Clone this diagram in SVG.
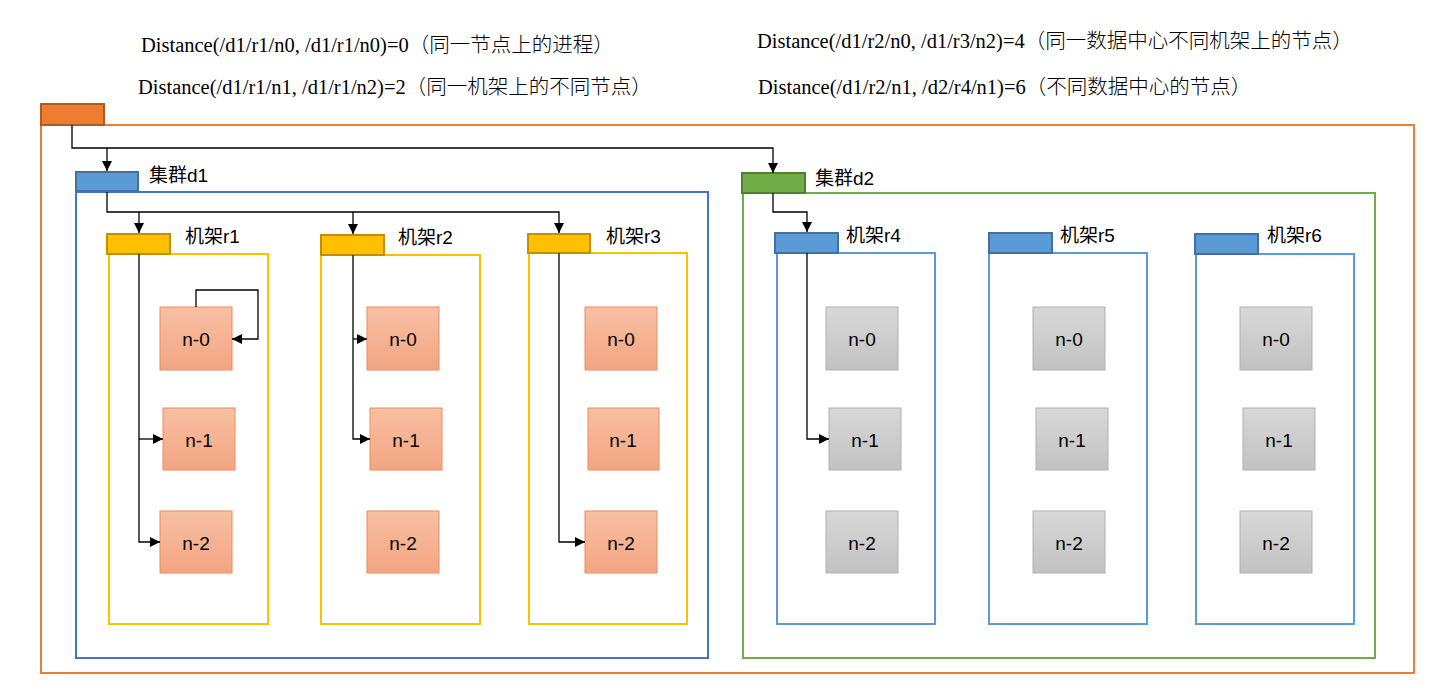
<svg xmlns="http://www.w3.org/2000/svg" width="1442" height="692" viewBox="0 0 1442 692">
<defs>
<linearGradient id="gOr" x1="0" y1="0" x2="0" y2="1"><stop offset="0" stop-color="#F7C0A3"/><stop offset="1" stop-color="#F3A582"/></linearGradient>
<linearGradient id="gGr" x1="0" y1="0" x2="0" y2="1"><stop offset="0" stop-color="#D8D8D8"/><stop offset="1" stop-color="#C2C2C2"/></linearGradient>
<marker id="ar" viewBox="0 0 10 10" refX="10" refY="5" markerWidth="10" markerHeight="10" markerUnits="userSpaceOnUse" orient="auto"><path d="M0,0 L10,5 L0,10 z" fill="#000"/></marker>
</defs>
<style>
.hdr{font-family:"Liberation Serif","Noto Sans CJK SC",serif;font-size:20.5px;fill:#000}
.cjk{font-family:"Noto Sans CJK SC",sans-serif;font-size:20.5px;font-weight:300}
.lbl{font-family:"Liberation Sans","Noto Sans CJK SC",sans-serif;font-size:19px;fill:#000}
.nt{font-family:"Liberation Sans",Arial,sans-serif;font-size:19px;fill:#000;text-anchor:middle;dominant-baseline:central}
.on{fill:url(#gOr);stroke:#F08C5A;stroke-width:1}
.gn{fill:url(#gGr);stroke:#B0B0B0;stroke-width:1}
.cy{fill:none;stroke:#FFC000;stroke-width:2}
.cb{fill:none;stroke:#5B9BD5;stroke-width:2}
.tY{fill:#FFC000;stroke:#BF9000;stroke-width:2}
.tB{fill:#5B9BD5;stroke:#41719C;stroke-width:2}
.cn{fill:none;stroke:#000;stroke-width:1.3}
</style>
<rect width="1442" height="692" fill="#fff"/>
<g id="header">
<text class="hdr" x="141" y="52">Distance(/d1/r1/n0, /d1/r1/n0)=0<tspan class="cjk">（同一节点上的进程）</tspan></text>
<text class="hdr" x="138" y="94">Distance(/d1/r1/n1, /d1/r1/n2)=2<tspan class="cjk">（同一机架上的不同节点）</tspan></text>
<text class="hdr" x="757" y="48">Distance(/d1/r2/n0, /d1/r3/n2)=4<tspan class="cjk">（同一数据中心不同机架上的节点）</tspan></text>
<text class="hdr" x="758" y="94">Distance(/d1/r2/n1, /d2/r4/n1)=6<tspan class="cjk">（不同数据中心的节点）</tspan></text>
</g>
<g id="root">
<rect x="41" y="125" width="1373" height="548" fill="none" stroke="#ED7D31" stroke-width="2"/>
<rect x="41" y="104" width="63" height="21" fill="#ED7D31" stroke="#AE5A21" stroke-width="2"/>
</g>
<g id="d1">
<rect x="76" y="192" width="632" height="466" fill="none" stroke="#4472C4" stroke-width="2"/>
<rect x="76" y="172" width="62" height="19" class="tB"/>
<text class="lbl" x="149" y="182">集群d1</text>
</g>
<g id="d2">
<rect x="743" y="193" width="632" height="465" fill="none" stroke="#70AD47" stroke-width="2"/>
<rect x="742" y="173" width="63" height="20" fill="#70AD47" stroke="#507E32" stroke-width="2"/>
<text class="lbl" x="815" y="185">集群d2</text>
</g>
<g id="r1">
<rect x="109" y="254" width="159" height="370" class="cy"/>
<rect x="107" y="234" width="63" height="20" class="tY"/>
<text class="lbl" x="185" y="243">机架r1</text>
</g>
<g id="r2">
<rect x="321" y="255" width="159" height="369" class="cy"/>
<rect x="321" y="235" width="63" height="20" class="tY"/>
<text class="lbl" x="398" y="244">机架r2</text>
</g>
<g id="r3">
<rect x="529" y="253" width="158" height="371" class="cy"/>
<rect x="528" y="234" width="62" height="19" class="tY"/>
<text class="lbl" x="606" y="243">机架r3</text>
</g>
<g id="r4">
<rect x="777" y="253" width="158" height="371" class="cb"/>
<rect x="775" y="233" width="63" height="20" class="tB"/>
<text class="lbl" x="846" y="242">机架r4</text>
</g>
<g id="r5">
<rect x="989" y="253" width="158" height="371" class="cb"/>
<rect x="989" y="233" width="63" height="20" class="tB"/>
<text class="lbl" x="1060" y="242">机架r5</text>
</g>
<g id="r6">
<rect x="1196" y="254" width="158" height="370" class="cb"/>
<rect x="1195" y="234" width="63" height="20" class="tB"/>
<text class="lbl" x="1267" y="242">机架r6</text>
</g>
<g id="r1-n0"><rect class="on" x="160" y="307" width="72" height="63"/><text class="nt" x="196" y="339">n-0</text></g>
<g id="r1-n1"><rect class="on" x="163" y="408" width="72" height="62"/><text class="nt" x="199" y="440">n-1</text></g>
<g id="r1-n2"><rect class="on" x="160" y="511" width="72" height="62"/><text class="nt" x="196" y="543">n-2</text></g>
<g id="r2-n0"><rect class="on" x="367" y="307" width="72" height="63"/><text class="nt" x="403" y="339">n-0</text></g>
<g id="r2-n1"><rect class="on" x="370" y="408" width="72" height="62"/><text class="nt" x="406" y="440">n-1</text></g>
<g id="r2-n2"><rect class="on" x="367" y="511" width="72" height="62"/><text class="nt" x="403" y="543">n-2</text></g>
<g id="r3-n0"><rect class="on" x="585" y="307" width="72" height="63"/><text class="nt" x="621" y="339">n-0</text></g>
<g id="r3-n1"><rect class="on" x="588" y="408" width="71" height="62"/><text class="nt" x="623" y="440">n-1</text></g>
<g id="r3-n2"><rect class="on" x="585" y="511" width="72" height="62"/><text class="nt" x="621" y="543">n-2</text></g>
<g id="r4-n0"><rect class="gn" x="826" y="307" width="72" height="63"/><text class="nt" x="862" y="339">n-0</text></g>
<g id="r4-n1"><rect class="gn" x="829" y="408" width="72" height="62"/><text class="nt" x="865" y="440">n-1</text></g>
<g id="r4-n2"><rect class="gn" x="826" y="511" width="72" height="62"/><text class="nt" x="862" y="543">n-2</text></g>
<g id="r5-n0"><rect class="gn" x="1033" y="307" width="72" height="63"/><text class="nt" x="1069" y="339">n-0</text></g>
<g id="r5-n1"><rect class="gn" x="1036" y="408" width="72" height="62"/><text class="nt" x="1072" y="440">n-1</text></g>
<g id="r5-n2"><rect class="gn" x="1033" y="511" width="72" height="62"/><text class="nt" x="1069" y="543">n-2</text></g>
<g id="r6-n0"><rect class="gn" x="1240" y="307" width="72" height="63"/><text class="nt" x="1276" y="339">n-0</text></g>
<g id="r6-n1"><rect class="gn" x="1243" y="408" width="72" height="62"/><text class="nt" x="1279" y="440">n-1</text></g>
<g id="r6-n2"><rect class="gn" x="1240" y="511" width="72" height="62"/><text class="nt" x="1276" y="543">n-2</text></g>
<g id="connectors">
<path class="cn" d="M72,125 V148 H773 V173" marker-end="url(#ar)"/>
<path class="cn" d="M107,148 V171" marker-end="url(#ar)"/>
<path class="cn" d="M107,192 V212 H559 V233" marker-end="url(#ar)"/>
<path class="cn" d="M139,212 V233" marker-end="url(#ar)"/>
<path class="cn" d="M353,212 V234" marker-end="url(#ar)"/>
<path class="cn" d="M139,254 V542 H160" marker-end="url(#ar)"/>
<path class="cn" d="M139,439 H163" marker-end="url(#ar)"/>
<path class="cn" d="M196,307 V290 H258 V339 H232" marker-end="url(#ar)"/>
<path class="cn" d="M353,255 V439 H370" marker-end="url(#ar)"/>
<path class="cn" d="M353,339 H367" marker-end="url(#ar)"/>
<path class="cn" d="M559,253 V542 H585" marker-end="url(#ar)"/>
<path class="cn" d="M773,193 V212 H807 V232" marker-end="url(#ar)"/>
<path class="cn" d="M807,253 V439 H829" marker-end="url(#ar)"/>
</g>
</svg>
